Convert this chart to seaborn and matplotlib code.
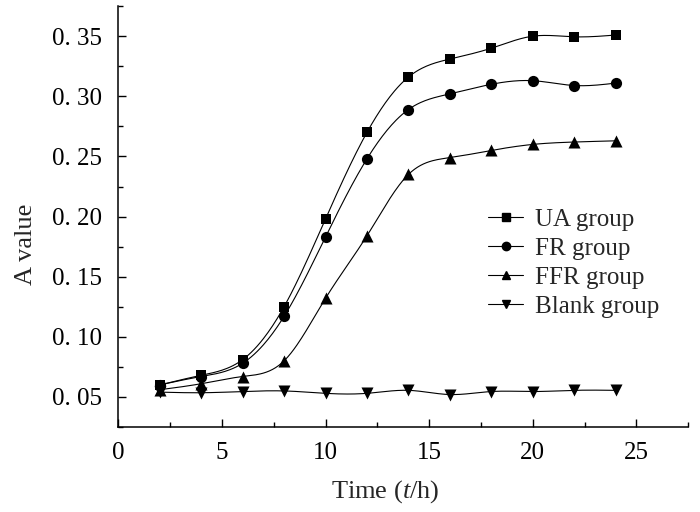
import numpy as np
import pandas as pd
import matplotlib
matplotlib.use("Agg")
import matplotlib.pyplot as plt
from matplotlib.lines import Line2D
from matplotlib.ticker import MultipleLocator
import seaborn as sns

# data
hours = [2, 4, 6, 8, 10, 12, 14, 16, 18, 20, 22, 24]
ua_group = [0.060, 0.068, 0.081, 0.125, 0.198, 0.270, 0.316, 0.331, 0.340, 0.350, 0.3495, 0.351]
fr_group = [0.060, 0.067, 0.078, 0.117, 0.183, 0.248, 0.289, 0.302, 0.310, 0.313, 0.309, 0.311]
ffr_group = [0.056, 0.061, 0.067, 0.080, 0.132, 0.184, 0.235, 0.249, 0.255, 0.260, 0.262, 0.263]
blank_group = [0.054, 0.0535, 0.0545, 0.055, 0.053, 0.053, 0.0555, 0.052, 0.0545, 0.0545, 0.0555, 0.0555]

group_names = ["UA group", "FR group", "FFR group", "Blank group"]
group_values = [ua_group, fr_group, ffr_group, blank_group]
group_markers = ["s", "o", "^", "v"]
marker_sizes = [55, 65, 75, 75]

x_ticks = [0, 5, 10, 15, 20, 25]
x_tick_labels = ["0", "5", "10", "15", "20", "25"]
y_ticks = [0.05, 0.10, 0.15, 0.20, 0.25, 0.30, 0.35]
y_tick_labels = ["0. 05", "0. 10", "0. 15", "0. 20", "0. 25", "0. 30", "0. 35"]


def spline_curve(x, y, n=300):
    # natural cubic spline through the points, only used to draw the connecting line
    x = np.asarray(x, float)
    y = np.asarray(y, float)
    k = len(x)
    h = np.diff(x)
    A = np.zeros((k, k))
    b = np.zeros(k)
    A[0, 0] = A[-1, -1] = 1
    for i in range(1, k - 1):
        A[i, i - 1] = h[i - 1]
        A[i, i] = 2 * (h[i - 1] + h[i])
        A[i, i + 1] = h[i]
        b[i] = 6 * ((y[i + 1] - y[i]) / h[i] - (y[i] - y[i - 1]) / h[i - 1])
    m = np.linalg.solve(A, b)
    xs = np.linspace(x[0], x[-1], n)
    idx = np.clip(np.searchsorted(x, xs) - 1, 0, k - 2)
    t = xs - x[idx]
    hi = h[idx]
    a = y[idx]
    c1 = (y[idx + 1] - y[idx]) / hi - hi * (2 * m[idx] + m[idx + 1]) / 6
    c2 = m[idx] / 2
    c3 = (m[idx + 1] - m[idx]) / (6 * hi)
    ys = a + c1 * t + c2 * t ** 2 + c3 * t ** 3
    return xs, ys


sns.set_style("ticks")
plt.rcParams["font.family"] = ["Liberation Serif", "DejaVu Serif"]
plt.rcParams["mathtext.fontset"] = "custom"
plt.rcParams["mathtext.rm"] = "Liberation Serif"
plt.rcParams["mathtext.it"] = "Liberation Serif:italic"

points = pd.DataFrame({
    "hour": np.tile(hours, len(group_names)),
    "value": np.concatenate(group_values),
    "group": np.repeat(group_names, len(hours)),
})

fig = plt.figure(figsize=(7, 5.12), dpi=100)
ax = fig.add_axes([0.169, 0.166, 0.814, 0.822])

curves = []
for name, vals in zip(group_names, group_values):
    xs, ys = spline_curve(hours, vals)
    curves.append(pd.DataFrame({"hour": xs, "value": ys, "group": name}))
curves = pd.concat(curves, ignore_index=True)

sns.lineplot(data=curves, x="hour", y="value", units="group", estimator=None,
             color="black", linewidth=0.8, legend=False, ax=ax)

for name, mk, sz in zip(group_names, group_markers, marker_sizes):
    sns.scatterplot(data=points[points["group"] == name], x="hour", y="value",
                    marker=mk, s=sz, color="black", edgecolor="black",
                    linewidth=0, legend=False, ax=ax, zorder=3)

ax.set_xlim(0, 27.5)
ax.set_ylim(0.025, 0.375)
ax.set_xticks(x_ticks)
ax.set_xticklabels(x_tick_labels)
ax.set_yticks(y_ticks)
ax.set_yticklabels(y_tick_labels)
ax.xaxis.set_minor_locator(MultipleLocator(2.5))
ax.yaxis.set_minor_locator(MultipleLocator(0.025))
ax.tick_params(which="both", direction="in", width=1.0, labelsize=18, colors="black")
ax.tick_params(axis="x", which="major", length=6, pad=11)
ax.tick_params(axis="x", which="minor", length=3.5)
ax.tick_params(axis="y", which="major", length=6, pad=12)
ax.tick_params(axis="y", which="minor", length=3.5)

for side in ["top", "right"]:
    ax.spines[side].set_visible(False)
for side in ["left", "bottom"]:
    ax.spines[side].set_linewidth(1.1)
    ax.spines[side].set_color("black")

ax.set_xlabel("Time ($\\it{t}$/h)", fontsize=19)
ax.set_ylabel("A value", fontsize=19)
ax.xaxis.set_label_coords(0.468, -0.121)
ax.yaxis.set_label_coords(-0.142, 0.435)

handles = [Line2D([0], [0], color="black", linewidth=0.8, marker=mk, markersize=6)
           for mk in group_markers]
ax.legend(handles, group_names, loc="upper left", bbox_to_anchor=(0.649, 0.519),
          frameon=False, fontsize=18, handlelength=1.4, handletextpad=0.48,
          labelspacing=0.26, borderpad=0, borderaxespad=0)

fig.savefig("out.png", dpi=100)
